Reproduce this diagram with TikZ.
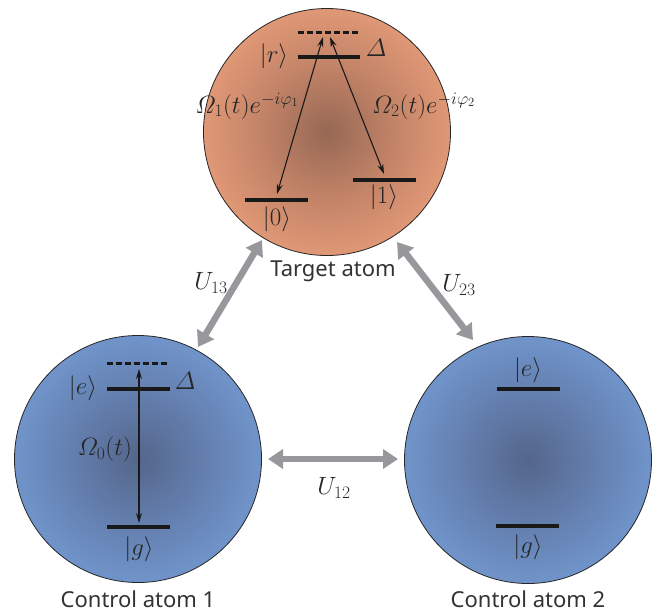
\RequirePackage{fix-cm}
\documentclass[tikz,border=0pt]{standalone}
\usepackage{amsmath}
\usepackage{fontspec}
\setmainfont{Noto Sans}
\usetikzlibrary{arrows.meta}
\definecolor{oc}{RGB}{150,104,84}
\definecolor{om}{RGB}{196,132,104}
\definecolor{oo}{RGB}{224,152,118}
\definecolor{bc}{RGB}{84,102,138}
\definecolor{bm}{RGB}{100,128,176}
\definecolor{bo}{RGB}{112,148,202}
\definecolor{ugray}{RGB}{152,152,156}
\definecolor{txt}{RGB}{50,50,50}
\pgfdeclareradialshading{orangeball}{\pgfpoint{0bp}{0bp}}{color(0bp)=(oc); color(14bp)=(om); color(25bp)=(oo); color(50bp)=(oo)}
\pgfdeclareradialshading{blueball}{\pgfpoint{0bp}{0bp}}{color(0bp)=(bc); color(14bp)=(bm); color(25bp)=(bo); color(50bp)=(bo)}
\tikzset{
  ball/.style={circle, minimum size=247pt, inner sep=0pt, draw=black!85, line width=0.8pt},
  level/.style={line width=4pt, black!90},
  virt/.style={line width=3pt, black!90, dash pattern=on 6pt off 3pt},
  trans/.style={line width=1.1pt, black!90, {Stealth[length=10pt,width=6pt]}-{Stealth[length=10pt,width=6pt]}},
  coup/.style={line width=6.5pt, ugray, {Triangle[width=19pt,length=15pt]}-{Triangle[width=19pt,length=15pt]}},
  mlab/.style={inner sep=0pt, text=black!85, font=\fontsize{25}{30}\selectfont},
  tlab/.style={inner sep=0pt, text=txt, font=\fontsize{22}{26}\selectfont},
}
\begin{document}
\begin{tikzpicture}[x=1pt,y=-1pt]
\useasboundingbox (0,0) rectangle (653,614);
% atoms
\node[ball, shading=orangeball] (T) at (327,132) {};
\node[ball, shading=blueball] (C1) at (138,459) {};
\node[ball, shading=blueball] (C2) at (528,460) {};
% --- target atom levels
\coordinate (Tda) at (298,32); \coordinate (Tdb) at (358,32);
\coordinate (Tra) at (298,57); \coordinate (Trb) at (360,57);
\coordinate (T0a) at (245,200); \coordinate (T0b) at (308,200);
\coordinate (T1a) at (353,180); \coordinate (T1b) at (416,180);
\draw[virt] (Tda) -- (Tdb);
\draw[level] (Tra) -- (Trb);
\draw[level] (T0a) -- (T0b);
\draw[level] (T1a) -- (T1b);
\node[mlab] (Tr) at (274,56) {$|r\rangle$};
\node[mlab] (TD) at (376,48) {$\varDelta$};
\node[mlab] (T0) at (277,219) {$|0\rangle$};
\node[mlab] (T1) at (384,197) {$|1\rangle$};
\coordinate (TLt) at (323,37); \coordinate (TLb) at (277,194);
\coordinate (TRt) at (330,37); \coordinate (TRb) at (384,174);
\draw[trans] (TLt) -- (TLb);
\draw[trans] (TRt) -- (TRb);
\node[mlab, anchor=east] (Om1) at (299,106) {$\varOmega_1(t)e^{-i\varphi_1}$};
\node[mlab, anchor=west] (Om2) at (372,106) {$\varOmega_2(t)e^{-i\varphi_2}$};
% --- control atom 1
\coordinate (Ada) at (107,363); \coordinate (Adb) at (168,363);
\coordinate (Aea) at (107,389); \coordinate (Aeb) at (170,389);
\coordinate (Aga) at (107,527); \coordinate (Agb) at (170,527);
\draw[virt] (Ada) -- (Adb);
\draw[level] (Aea) -- (Aeb);
\draw[level] (Aga) -- (Agb);
\node[mlab] (Ae) at (83,388) {$|e\rangle$};
\node[mlab] (AD) at (185,381) {$\varDelta$};
\node[mlab] (Ag) at (139,549) {$|g\rangle$};
\coordinate (At) at (139,369); \coordinate (Ab) at (139,523);
\draw[trans] (At) -- (Ab);
\node[mlab] (Om0) at (105,449) {$\varOmega_0(t)$};
% --- control atom 2
\coordinate (Bea) at (497,389); \coordinate (Beb) at (560,389);
\coordinate (Bga) at (496,526); \coordinate (Bgb) at (559,526);
\draw[level] (Bea) -- (Beb);
\draw[level] (Bga) -- (Bgb);
\node[mlab] (Be) at (528,370) {$|e\rangle$};
\node[mlab] (Bg) at (528,547) {$|g\rangle$};
% --- couplings
\coordinate (u13a) at (198,347); \coordinate (u13b) at (262,240);
\coordinate (u23a) at (397,242); \coordinate (u23b) at (473,340);
\coordinate (u12a) at (268,459); \coordinate (u12b) at (398,459);
\draw[coup] (u13a) -- (u13b);
\draw[coup] (u23a) -- (u23b);
\draw[coup] (u12a) -- (u12b);
\node[mlab] (U13) at (211,283) {$U_{13}$};
\node[mlab] (U23) at (459,285) {$U_{23}$};
\node[mlab] (U12) at (334,488) {$U_{12}$};
% --- names
\node[tlab] (Tname) at (333,271) {Target atom};
\node[tlab] (C1name) at (138,599) {Control atom 1};
\node[tlab] (C2name) at (528,599) {Control atom 2};
\end{tikzpicture}
\end{document}
